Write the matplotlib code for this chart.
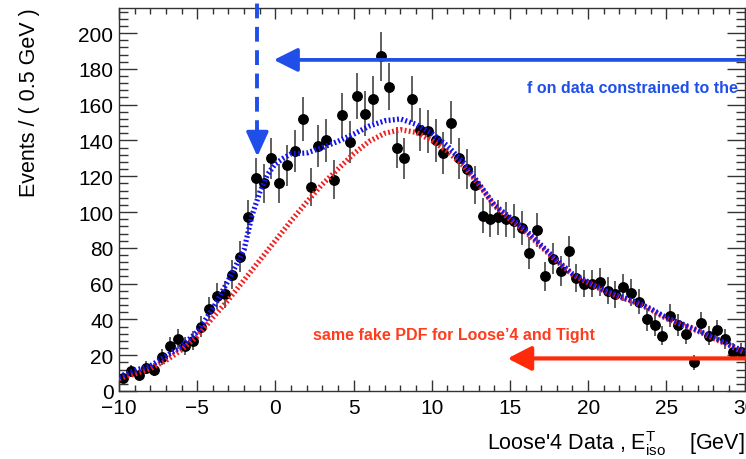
"""Fake-PDF fit of the Loose'4 isolation spectrum, ROOT-style."""

import numpy as np
import matplotlib
matplotlib.use("Agg")
from matplotlib import pyplot as plt

plt.rcParams['font.family'] = ['Liberation Sans', 'DejaVu Sans']
plt.rcParams['mathtext.default'] = 'regular'

# data: 0.5 GeV bins from -10 to 30
bin_centers = np.arange(-9.75, 30.0, 0.5)
counts = [
    7, 11, 9, 13, 12, 19, 25, 29, 25, 28,
    36, 46, 53, 54, 65, 75, 97, 119, 116, 130,
    116, 126, 134, 152, 114, 137, 140, 118, 154, 139,
    165, 155, 163, 187, 170, 136, 130, 163, 146, 145,
    140, 133, 150, 130, 124, 115, 98, 96, 97, 96,
    95, 91, 77, 90, 64, 74, 67, 78, 63, 60,
    60, 61, 56, 54, 58, 55, 50, 40, 37, 31,
    42, 37, 32, 16, 38, 31, 34, 29, 22, 22,
]

curve_x = [-10, -9, -8, -7, -6, -5, -4, -3, -2, -1.5, -1, -0.5, 0, 0.5, 1,
           2, 3, 4, 5, 6, 7, 8, 9, 10, 11, 12, 13, 14, 15, 16, 17, 18, 19,
           20, 21, 22, 23, 24, 25, 26, 27, 28, 29, 30]
total_fit = [8, 11.5, 14, 19.5, 25, 33, 46, 62, 79, 98, 111, 121, 127, 130, 132.5,
             133, 136, 139.5, 143.5, 148, 151, 152, 149, 144, 137, 128, 116, 104, 97,
             90, 81.5, 73, 65.5, 61, 56.5, 53, 50, 46, 41, 37.5, 34, 30, 26, 22]
fake_pdf = [7, 9.5, 12.5, 17, 23, 30.5, 41, 51, 62, 67.5, 73, 78.5, 84, 89.5, 95,
            105.5, 115.5, 124, 132.5, 139.5, 144, 146, 144.5, 140, 134, 126, 115.5, 103.5, 96,
            89, 80.5, 72.5, 65, 60.5, 56, 52.5, 49.5, 45.5, 40.5, 37, 33.5, 29.5, 25.5, 21.5]

# annotation positions (data coords)
vline_x = -1.15
vhead_tip, vhead_base = 131, 143
blue_arrow = dict(tip=(-0.1, 185), tail=(31.5, 185))
red_arrow = dict(tip=(14.85, 18.2), tail=(31.5, 18.2))

BLUE = '#1f4fe8'
RED = '#ff2a0a'

fig = plt.figure(figsize=(7.46, 4.60), dpi=100)
ax = fig.add_axes([119 / 746, 68 / 460, (744.5 - 119) / 746, (392 - 9) / 460])

ax.errorbar(bin_centers, counts, yerr=np.sqrt(counts), fmt='o', color='black',
            ecolor='#444444', elinewidth=1.2, markersize=6.8, capsize=0, zorder=2)
ax.plot(curve_x, fake_pdf, color='#ee2222', lw=3.8, ls=(0, (0.35, 0.45)), zorder=3)
ax.plot(curve_x, total_fit, color='#1111ee', lw=3.8, ls=(0, (0.35, 0.45)), zorder=4)

# dashed vertical marker with head
ax.plot([vline_x, vline_x], [vhead_base, 260], color=BLUE, lw=2.8,
        ls=(0, (3.8, 2.2)), clip_on=False, zorder=5)
ax.annotate('', xy=(vline_x, vhead_tip), xytext=(vline_x, vhead_base + 1),
            arrowprops=dict(arrowstyle='-|>,head_length=0.75,head_width=0.34',
                            mutation_scale=20, color=BLUE, lw=2.5,
                            shrinkA=0, shrinkB=0),
            annotation_clip=False, zorder=5)
ax.annotate('', xy=blue_arrow['tip'], xytext=blue_arrow['tail'],
            arrowprops=dict(arrowstyle='-|>,head_length=0.72,head_width=0.36',
                            mutation_scale=20, color=BLUE, lw=2.7,
                            shrinkA=0, shrinkB=0),
            annotation_clip=False, zorder=5)
ax.annotate('', xy=red_arrow['tip'], xytext=red_arrow['tail'],
            arrowprops=dict(arrowstyle='-|>,head_length=0.72,head_width=0.37',
                            mutation_scale=20, color=RED, lw=3.0,
                            shrinkA=0, shrinkB=0),
            annotation_clip=False, zorder=5)

ax.text(29.57, 169.8, 'f on data constrained to the', color=BLUE, fontsize=11.5,
        fontweight='bold', ha='right', va='center')
ax.text(2.38, 31.8, 'same fake PDF for Loose\u20194 and Tight', color='#ff3c1e',
        fontsize=11.5, fontweight='bold', ha='left', va='center')

ax.set_xlim(-10, 30)
ax.set_ylim(0, 214)
ax.set_xticks(np.arange(-10, 31, 5))
ax.set_xticks(np.arange(-10, 31, 1), minor=True)
ax.set_yticks(np.arange(0, 201, 20))
ax.set_yticks(np.arange(0, 213, 4), minor=True)
ax.set_xticklabels(['\u221210', '\u22125', '0', '5', '10', '15', '20', '25', '30'])

ax.tick_params(axis='both', which='both', direction='in', top=True, right=True,
               labelsize=15, width=1.0, color='#333333')
ax.tick_params(axis='x', which='major', length=8, pad=5)
ax.tick_params(axis='x', which='minor', length=4.3)
ax.tick_params(axis='y', which='major', length=13, pad=4)
ax.tick_params(axis='y', which='minor', length=6.5)
for spine in ax.spines.values():
    spine.set_linewidth(1.0)
    spine.set_color('#333333')

fig.text(30 / 746, 1 - 8 / 460, 'Events / ( 0.5 GeV )', rotation=90,
         fontsize=15.5, ha='center', va='top')
fig.text(745 / 746, 1 - 450 / 460, "Loose'4 Data , $E^{T}_{iso}$    [GeV]",
         fontsize=15.5, ha='right', va='baseline')

fig.savefig('out.png', dpi=100)
plt.close(fig)
